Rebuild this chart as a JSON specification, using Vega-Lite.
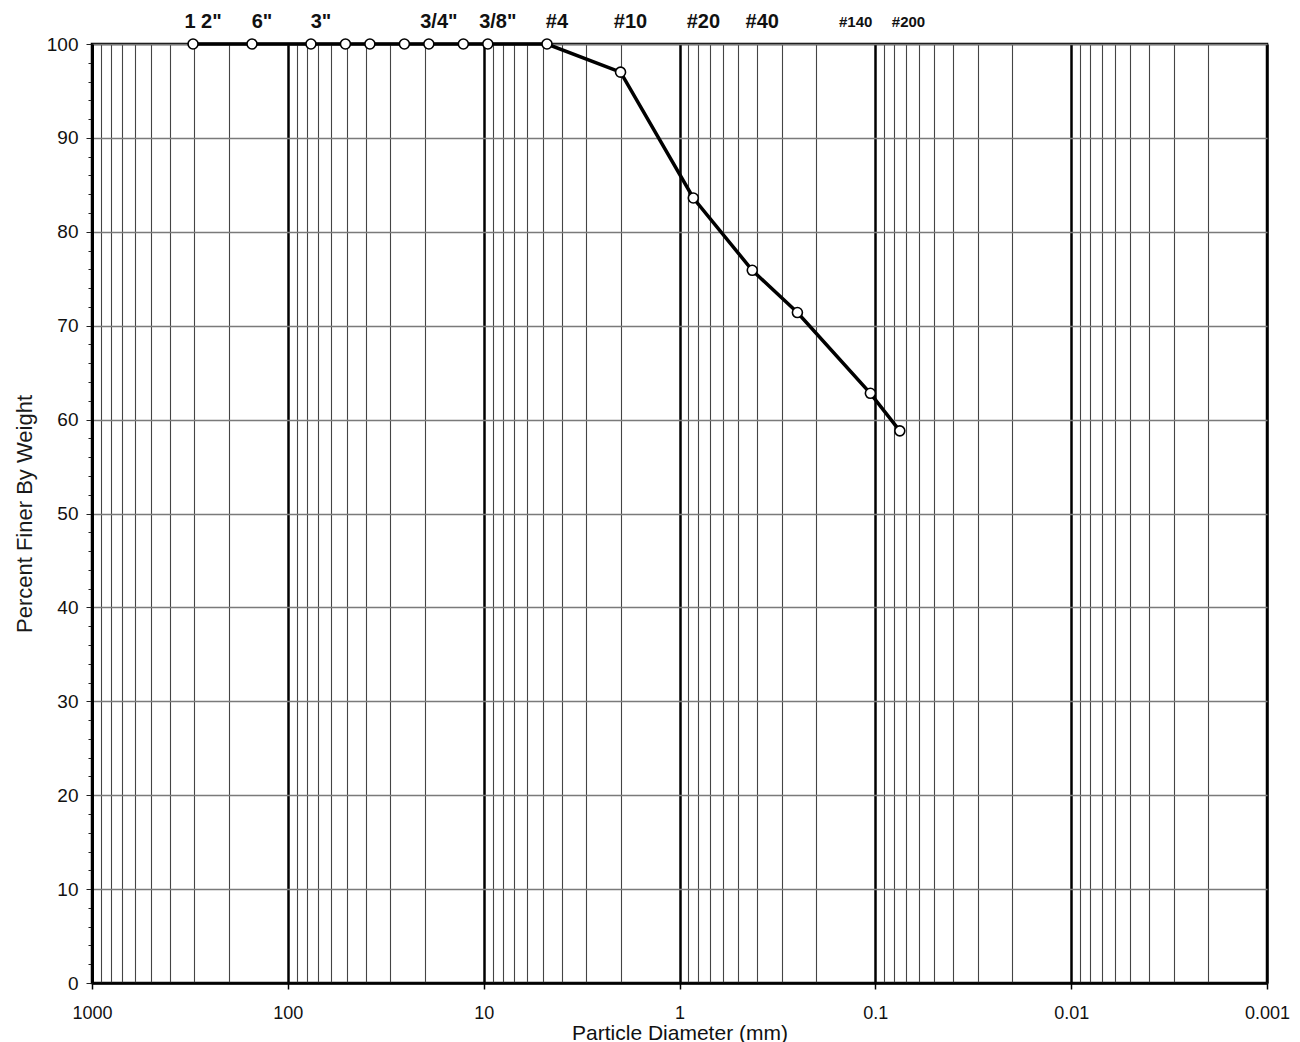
{
  "$schema": "https://vega.github.io/schema/vega-lite/v6.json",
  "width": 1175,
  "height": 939,
  "autosize": "none",
  "padding": {"left": 92, "top": 44, "right": 33, "bottom": 59},
  "background": "white",
  "config": {
    "view": {"stroke": "black", "strokeWidth": 2.5},
    "font": "Liberation Sans"
  },
  "data": {
    "values": [
      {"sieve": "12\"", "mm": 304.8, "pct": 100, "label": "1 2\""},
      {"sieve": "6\"", "mm": 152.4, "pct": 100, "label": "6\""},
      {"sieve": "3\"", "mm": 76.2, "pct": 100, "label": "3\""},
      {"sieve": "2\"", "mm": 50.8, "pct": 100, "label": ""},
      {"sieve": "1.5\"", "mm": 38.1, "pct": 100, "label": ""},
      {"sieve": "1\"", "mm": 25.4, "pct": 100, "label": ""},
      {"sieve": "3/4\"", "mm": 19.05, "pct": 100, "label": "3/4\""},
      {"sieve": "1/2\"", "mm": 12.7, "pct": 100, "label": ""},
      {"sieve": "3/8\"", "mm": 9.525, "pct": 100, "label": "3/8\""},
      {"sieve": "#4", "mm": 4.75, "pct": 100, "label": "#4"},
      {"sieve": "#10", "mm": 2.0, "pct": 97.0, "label": "#10"},
      {"sieve": "#20", "mm": 0.85, "pct": 83.6, "label": "#20"},
      {"sieve": "#40", "mm": 0.425, "pct": 75.9, "label": "#40"},
      {"sieve": "#60", "mm": 0.25, "pct": 71.4, "label": ""},
      {"sieve": "#140", "mm": 0.106, "pct": 62.8, "label": "#140"},
      {"sieve": "#200", "mm": 0.075, "pct": 58.8, "label": "#200"}
    ]
  },
  "encoding": {
    "x": {
      "field": "mm",
      "type": "quantitative",
      "scale": {"type": "log", "domain": [0.001, 1000], "reverse": true, "nice": false},
      "axis": {
        "title": "Particle Diameter (mm)",
        "titleFont": "Liberation Sans",
        "titleFontSize": 21,
        "titleFontWeight": "normal",
        "titleColor": "#111",
        "titlePadding": 0,
        "values": [1000, 900, 800, 700, 600, 500, 400, 300, 200, 100, 90, 80, 70, 60, 50, 40, 30, 20, 10, 9, 8, 7, 6, 5, 4, 3, 2, 1, 0.9, 0.8, 0.7, 0.6, 0.5, 0.4, 0.3, 0.2, 0.1, 0.09, 0.08, 0.07, 0.06, 0.05, 0.04, 0.03, 0.02, 0.01, 0.009, 0.008, 0.007, 0.006, 0.005, 0.004, 0.003, 0.002, 0.001],
        "format": "~g",
        "labelExpr": "indexof([1000, 100, 10, 1, 0.1, 0.01, 0.001], datum.value) >= 0 ? datum.label : ''",
        "labelOverlap": false,
        "labelFlush": false,
        "labelBound": false,
        "labelFontSize": 18,
        "labelColor": "#111",
        "labelPadding": 15,
        "tickSize": 6,
        "tickColor": {"condition": {"test": "indexof([1000, 100, 10, 1, 0.1, 0.01, 0.001], datum.value) >= 0", "value": "black"}, "value": "transparent"},
        "tickWidth": 1.5,
        "domainColor": "black",
        "domainWidth": 2.5,
        "grid": true,
        "gridColor": {"condition": {"test": "indexof([1000, 100, 10, 1, 0.1, 0.01, 0.001], datum.value) >= 0", "value": "#000000"}, "value": "#444444"},
        "gridWidth": {"condition": {"test": "indexof([1000, 100, 10, 1, 0.1, 0.01, 0.001], datum.value) >= 0", "value": 2.5}, "value": 1.1},
        "gridOpacity": 1
      }
    },
    "y": {
      "field": "pct",
      "type": "quantitative",
      "scale": {"domain": [0, 100], "nice": false},
      "axis": {
        "title": "Percent Finer By Weight",
        "titleFontSize": 22,
        "titleFontWeight": "normal",
        "titleColor": "#1a1a1a",
        "titlePadding": 10,
        "values": [0, 2, 4, 6, 8, 10, 12, 14, 16, 18, 20, 22, 24, 26, 28, 30, 32, 34, 36, 38, 40, 42, 44, 46, 48, 50, 52, 54, 56, 58, 60, 62, 64, 66, 68, 70, 72, 74, 76, 78, 80, 82, 84, 86, 88, 90, 92, 94, 96, 98, 100],
        "labelExpr": "datum.value % 10 === 0 ? datum.label : ''",
        "labelOverlap": false,
        "labelFontSize": 19,
        "labelColor": "#111",
        "labelPadding": 8,
        "tickSize": {"condition": {"test": "datum.value % 10 === 0", "value": 6}, "value": 4},
        "tickColor": "#222",
        "tickWidth": 1,
        "domainColor": "black",
        "domainWidth": 3,
        "grid": true,
        "gridColor": {"condition": {"test": "datum.value % 10 === 0", "value": "#7a7a7a"}, "value": "transparent"},
        "gridWidth": 1.3,
        "gridOpacity": 1
      }
    }
  },
  "layer": [
    {
      "mark": {"type": "line", "color": "black", "strokeWidth": 3.5}
    },
    {
      "mark": {"type": "point", "shape": "circle", "filled": true, "fill": "white", "stroke": "black", "strokeWidth": 1.6, "size": 100, "opacity": 1}
    },
    {
      "transform": [{"filter": "datum.label != '' && datum.mm > 0.2"}],
      "mark": {"type": "text", "baseline": "middle", "align": "center", "dx": 10, "dy": -22, "fontSize": 20, "color": "#111", "fontWeight": "bold"},
      "encoding": {
        "y": {"datum": 100},
        "text": {"field": "label"}
      }
    },
    {
      "transform": [{"filter": "datum.sieve == '#140'"}],
      "mark": {"type": "text", "baseline": "middle", "align": "right", "dx": 2, "dy": -22, "fontSize": 15, "color": "#111", "fontWeight": "bold"},
      "encoding": {
        "y": {"datum": 100},
        "text": {"field": "label"}
      }
    },
    {
      "transform": [{"filter": "datum.sieve == '#200'"}],
      "mark": {"type": "text", "baseline": "middle", "align": "left", "dx": -8, "dy": -22, "fontSize": 15, "color": "#111", "fontWeight": "bold"},
      "encoding": {
        "y": {"datum": 100},
        "text": {"field": "label"}
      }
    }
  ]
}
